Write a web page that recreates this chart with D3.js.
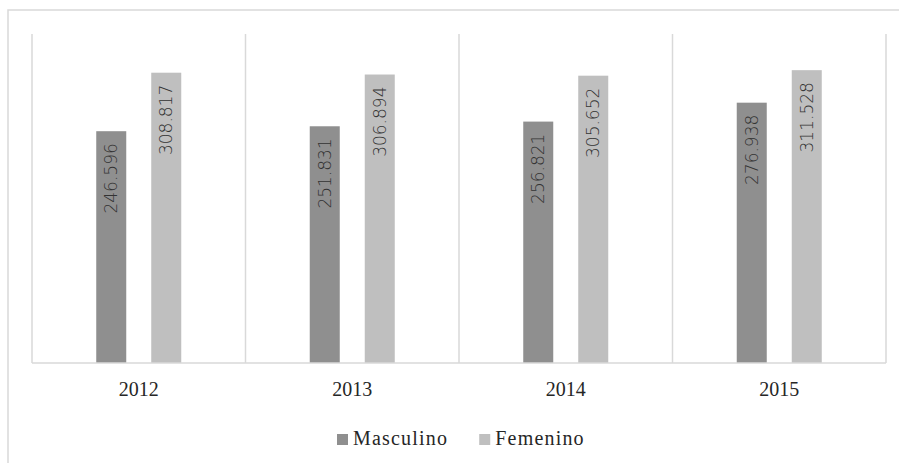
<!DOCTYPE html>
<html>
<head>
<meta charset="utf-8">
<script src="https://cdn.jsdelivr.net/npm/d3@7"></script>
<style>
  body { margin: 0; background: #fff; }
</style>
</head>
<body>
<script>
// datos
const years = ["2012", "2013", "2014", "2015"];
const series = ["Masculino", "Femenino"];
const masculino = [246596, 251831, 256821, 276938];
const femenino = [308817, 306894, 305652, 311528];
const colors = ["#8f8f8f", "#bfbfbf"];

const values = [masculino, femenino];

const svg = d3.select("body").append("svg")
    .attr("width", 899)
    .attr("height", 463);

const serif = "'Liberation Serif', 'Times New Roman', serif";

// borde del gráfico (cortado por la derecha y abajo)
svg.append("path")
    .attr("d", "M8,470 L8,10 L905,10")
    .attr("fill", "none")
    .attr("stroke", "#d9d9d9")
    .attr("stroke-width", 1.5);

const x = d3.scaleBand()
    .domain(years)
    .range([32, 886])
    .padding(0);

const xSub = d3.scaleBand()
    .domain(series)
    .range([0, x.bandwidth()])
    .paddingInner(0.4545)
    .paddingOuter(1.168);

const y = d3.scaleLinear()
    .domain([0, 350000])
    .range([363, 34]);

const fmt = d3.formatLocale({ decimal: ",", thousands: ".", grouping: [3], currency: ["", ""] }).format(",d");

// líneas verticales entre categorías
const bounds = years.map(d => x(d)).concat([x(years[years.length - 1]) + x.bandwidth()]);
svg.selectAll(".grid")
    .data(bounds)
    .join("line")
    .attr("class", "grid")
    .attr("x1", d => d).attr("x2", d => d)
    .attr("y1", y(350000)).attr("y2", y(0))
    .attr("stroke", "#d9d9d9")
    .attr("stroke-width", 1.5);

// barras
const groups = svg.selectAll(".year")
    .data(years)
    .join("g")
    .attr("class", "year")
    .attr("transform", d => `translate(${x(d)},0)`);

const cells = groups.selectAll("g")
    .data((d, i) => series.map((s, j) => ({ s, j, v: values[j][i] })))
    .join("g");

cells.append("rect")
    .attr("x", d => xSub(d.s))
    .attr("width", xSub.bandwidth())
    .attr("y", d => y(d.v))
    .attr("height", d => y(0) - y(d.v))
    .attr("fill", d => colors[d.j]);

cells.append("text")
    .attr("transform", d => `translate(${xSub(d.s) + xSub.bandwidth() / 2},${y(d.v) + 12}) rotate(-90)`)
    .attr("text-anchor", "end")
    .attr("dominant-baseline", "central")
    .attr("font-family", "'DejaVu Sans', sans-serif")
    .attr("font-weight", 200)
    .attr("font-size", 17)
    .attr("fill", "#333")
    .text(d => fmt(d.v));

// eje horizontal
svg.append("line")
    .attr("x1", 32).attr("x2", 886)
    .attr("y1", y(0)).attr("y2", y(0))
    .attr("stroke", "#d9d9d9")
    .attr("stroke-width", 1.5);

svg.selectAll(".tick-label")
    .data(years)
    .join("text")
    .attr("class", "tick-label")
    .attr("x", d => x(d) + x.bandwidth() / 2)
    .attr("y", 396)
    .attr("text-anchor", "middle")
    .attr("font-family", serif)
    .attr("font-size", 20)
    .attr("fill", "#262626")
    .text(d => d);

// leyenda
const legend = svg.append("g");
let lx = 337;
series.forEach((s, i) => {
  const item = legend.append("g").attr("transform", `translate(${lx},0)`);
  item.append("rect")
      .attr("x", 0).attr("y", 434)
      .attr("width", 11).attr("height", 11)
      .attr("fill", colors[i]);
  const t = item.append("text")
      .attr("x", 16).attr("y", 445)
      .attr("font-family", serif)
      .attr("font-size", 20)
      .attr("letter-spacing", 1.2)
      .attr("fill", "#262626")
      .text(s);
  lx += 16 + t.node().getComputedTextLength() + 31;
});
</script>
</body>
</html>
